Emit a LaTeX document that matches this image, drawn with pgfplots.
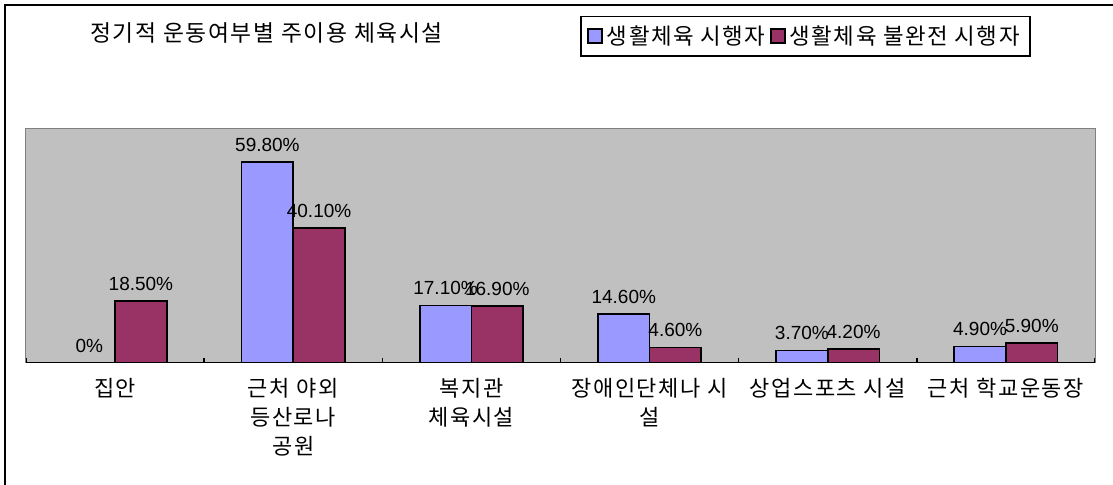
\documentclass[border=0pt]{standalone}
\usepackage{fontspec}
\setmainfont{Liberation Sans}
\newfontfamily\kr[LetterSpace=7]{Noto Sans CJK KR}
\usepackage{pgfplots}
\pgfplotsset{compat=1.18}
\definecolor{barblue}{HTML}{9999FF}
\definecolor{barred}{HTML}{993366}
\definecolor{plotgray}{HTML}{C0C0C0}

\pgfplotsset{
  sqlegend/.style={legend image code/.code={
    \draw[##1, draw=black, line width=1pt] (0pt,-3.5pt) rectangle (7pt,3.5pt);}}
}

\begin{document}
\begin{tikzpicture}
\useasboundingbox (0,0) rectangle (556.5pt,-242.5pt);
% outer chart frame (right and bottom edges fall outside the picture)
\draw[line width=1.2pt] (2.5pt,-260pt) -- (2.5pt,-2.5pt) -- (570pt,-2.5pt);
\node[font=\kr\fontsize{11.4}{12}\selectfont, anchor=west, inner sep=0pt]
  at (45pt,-16.5pt) {정기적 운동여부별 주이용 체육시설};
\begin{axis}[
  at={(13pt,-181.5pt)}, anchor=south west,
  width=534.5pt, height=117.5pt, scale only axis,
  xmin=-0.5, xmax=5.5, ymin=0, ymax=70,
  axis background/.style={fill=plotgray},
  axis line style={draw=gray, line width=0.5pt},
  ybar=0pt, bar width=0.29,
  ytick=\empty,
  xtick={0,...,5},
  xticklabels={{집안},{근처 야외\\등산로나\\공원},{복지관\\체육시설},{장애인단체나 시\\설},{상업스포츠 시설},{근처 학교운동장}},
  xticklabel style={align=center, font=\kr\fontsize{11}{14.5}\selectfont, yshift=-4pt},
  major x tick style={draw=none},
  minor xtick={-0.5,0.5,1.5,2.5,3.5,4.5,5.5},
  minor x tick style={black, line width=0.8pt},
  minor tick length=2.5pt,
  xtick pos=bottom, tick align=inside,
  point meta=explicit symbolic,
  nodes near coords,
  nodes near coords style={font=\fontsize{9.5}{10}\selectfont, black, yshift=1.5pt},
  legend columns=-1,
  legend style={at={(0.729,1.39)}, anchor=center, draw=black, line width=0.8pt,
    font=\kr\fontsize{11.2}{12}\selectfont, inner xsep=3pt, inner ysep=2.5pt,
    /tikz/every odd column/.append style={column sep=0pt}},
]
\addplot[sqlegend, fill=barblue, draw=black, line width=0.9pt]
  coordinates {(0,0) [0\%] (1,59.8) [59.80\%] (2,17.1) [17.10\%]
               (3,14.6) [14.60\%] (4,3.7) [3.70\%] (5,4.9) [4.90\%]};
\addlegendentry{생활체육 시행자}
\addplot[sqlegend, fill=barred, draw=black, line width=0.9pt]
  coordinates {(0,18.5) [18.50\%] (1,40.1) [40.10\%] (2,16.9) [16.90\%]
               (3,4.6) [4.60\%] (4,4.2) [4.20\%] (5,5.9) [5.90\%]};
\addlegendentry{생활체육 불완전 시행자}
\draw[black, line width=1.1pt] (rel axis cs:0,0) -- (rel axis cs:1,0);
\end{axis}
\end{tikzpicture}
\end{document}
